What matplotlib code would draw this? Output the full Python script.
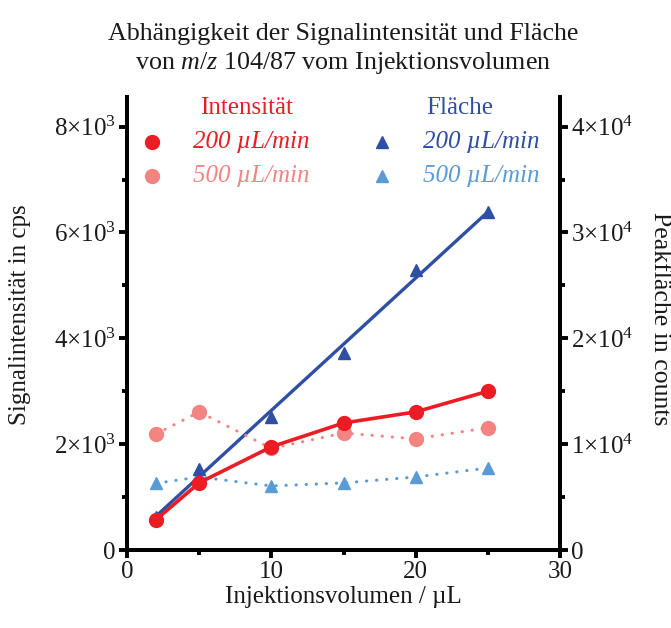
import matplotlib
matplotlib.use("Agg")
import matplotlib.pyplot as plt
from matplotlib.ticker import MultipleLocator, FuncFormatter
import numpy as np

plt.rcParams['font.family'] = ['Liberation Serif', 'DejaVu Serif']
plt.rcParams['mathtext.fontset'] = 'custom'
plt.rcParams['mathtext.rm'] = 'Liberation Serif'
plt.rcParams['mathtext.it'] = 'Liberation Serif:italic'

# injection volume in uL
volume = [2, 5, 10, 15, 20, 25]
# signal intensity in cps
int_200 = [570, 1270, 1950, 2400, 2610, 3000]
int_500 = [2190, 2610, 1920, 2210, 2100, 2310]
# peak area in counts
area_200 = [3100, 7700, 12600, 18600, 26500, 31900]
area_500 = [6300, 6900, 6050, 6340, 6900, 7750]

red = '#ec1c24'
red_light = '#f28482'
blue = '#2f4fa5'
blue_light = '#5b9bd5'
txt = '#1a1a1a'

fig = plt.figure(figsize=(6.71, 6.28), dpi=100)
ax = fig.add_axes([0.1893, 0.1242, 0.6453, 0.7213])
ax2 = ax.twinx()
# keep the intensity curves above the area curves
ax.set_zorder(ax2.get_zorder() + 1)
ax.patch.set_visible(False)

dot = (0, (0.1, 3.2))
ax.plot(volume, int_500, color=red_light, lw=2.2, ls=dot, dash_capstyle='round',
        marker='o', ms=10, clip_on=False)
ax.plot(volume, int_200, color=red, lw=2.6, marker='o', ms=10, clip_on=False)

ax2.plot(volume, area_500, color=blue_light, lw=2.2, ls=dot, dash_capstyle='round',
         marker='^', ms=9, clip_on=False)
# linear fit through the 200 uL/min peak areas
k, d = np.polyfit(volume, area_200, 1)
xf = np.array([volume[0], volume[-1]])
ax2.plot(xf, k * xf + d, color=blue, lw=2.4)
ax2.plot(volume, area_200, color=blue, ls='none', marker='^', ms=9, clip_on=False)

ax.set_xlim(0, 30)
ax.set_ylim(0, 8560)
ax2.set_ylim(0, 42800)

ax.xaxis.set_major_locator(MultipleLocator(10))
ax.xaxis.set_minor_locator(MultipleLocator(5))
ax.yaxis.set_major_locator(MultipleLocator(2000))
ax.yaxis.set_minor_locator(MultipleLocator(1000))
ax2.yaxis.set_major_locator(MultipleLocator(10000))
ax2.yaxis.set_minor_locator(MultipleLocator(5000))


def sci(exp):
    def f(v, pos):
        if v == 0:
            return '0'
        return r'$%d{\times}10^{%d}$' % (round(v / 10 ** exp), exp)
    return FuncFormatter(f)


ax.yaxis.set_major_formatter(sci(3))
ax2.yaxis.set_major_formatter(sci(4))

for a in (ax, ax2):
    a.spines['top'].set_visible(False)
    for s in a.spines.values():
        s.set_linewidth(2.8)
    a.tick_params(which='major', length=6, width=2.8, labelsize=18, pad=2, colors='black',
                  labelcolor=txt)
    a.tick_params(which='minor', length=3.5, width=2.8, colors='black')

ax.set_xlabel('Injektionsvolumen / µL', fontsize=18, color=txt, labelpad=2)
ax.set_ylabel('Signalintensität in cps', fontsize=18, color=txt, va='center')
ax.yaxis.set_label_coords(-0.247, 0.52)
ax2.set_ylabel('Peakfläche in counts', fontsize=18.5, color=txt, rotation=270, va='center')
ax2.yaxis.set_label_coords(1.231, 0.51)

ax.set_title('Abhängigkeit der Signalintensität und Fläche\n'
             'von $m/z$ 104/87 vom Injektionsvolumen',
             fontsize=18.7, color=txt, pad=20, linespacing=1.3)

# legend block drawn by hand
tr = ax.transAxes
ax.text(0.277, 0.976, 'Intensität', transform=tr, color=red, fontsize=18,
        ha='center', va='center')
ax.text(0.769, 0.976, 'Fläche', transform=tr, color=blue, fontsize=18,
        ha='center', va='center')
rows = [0.901, 0.825]
ax.plot([0.058], [rows[0]], 'o', color=red, ms=10, transform=tr, clip_on=False)
ax.plot([0.058], [rows[1]], 'o', color=red_light, ms=10, transform=tr, clip_on=False)
ax.plot([0.589], [rows[0]], '^', color=blue, ms=9, transform=tr, clip_on=False)
ax.plot([0.589], [rows[1]], '^', color=blue_light, ms=9, transform=tr, clip_on=False)
for x0, cols in ((0.152, (red, red_light)), (0.684, (blue, blue_light))):
    ax.text(x0, rows[0], '200 µL/min', transform=tr, color=cols[0], fontsize=18,
            style='italic', ha='left', va='center')
    ax.text(x0, rows[1], '500 µL/min', transform=tr, color=cols[1], fontsize=18,
            style='italic', ha='left', va='center')

fig.savefig('out.png', dpi=100)
